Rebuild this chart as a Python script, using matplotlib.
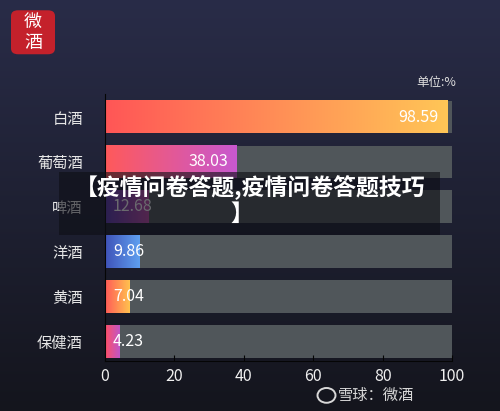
import matplotlib.pyplot as plt
import numpy as np
from matplotlib.colors import LinearSegmentedColormap
from matplotlib.patches import FancyBboxPatch, Rectangle, Circle

plt.rcParams['font.family'] = ['Noto Sans CJK SC', 'DejaVu Sans']

categories = ['白酒', '葡萄酒', '啤酒', '洋酒', '黄酒', '保健酒']
values = [98.59, 38.03, 12.68, 9.86, 7.04, 4.23]
grad_colors = [('#ff5656', '#ffc656'),
               ('#ff5a5a', '#c858d0'),
               ('#5a3ab0', '#c04aa8'),
               ('#3f52b8', '#5fa0f0'),
               ('#ff5a58', '#ffc24e'),
               ('#ff5066', '#c056c8')]
xticks = [0, 20, 40, 60, 80, 100]

fig = plt.figure(figsize=(5, 4.11), dpi=100)

# background gradient
bg = fig.add_axes([0, 0, 1, 1])
bg_cmap = LinearSegmentedColormap.from_list('bg', ['#292c48', '#14151d'])
bg.imshow(np.linspace(0, 1, 256).reshape(-1, 1), cmap=bg_cmap, aspect='auto',
          extent=[0, 1, 0, 1])
bg.set_xlim(0, 1)
bg.set_ylim(0, 1)
bg.axis('off')

ax = fig.add_axes([0.21, 0.1217, 0.694, 0.649])
ax.patch.set_alpha(0)
n = len(categories)
ypos = np.arange(n)[::-1]
h = 0.73

ax.barh(ypos, [100] * n, height=h, color='#50565a', zorder=1)
for y, v, (c0, c1) in zip(ypos, values, grad_colors):
    cm = LinearSegmentedColormap.from_list('g', [c0, c1])
    ax.imshow(np.linspace(0, 1, 256).reshape(1, -1), cmap=cm, aspect='auto',
              extent=[0, v, y - h / 2, y + h / 2], zorder=2)
    if v > 20:
        ax.text(v - 2.5, y, f'{v:.2f}', ha='right', va='center',
                color='white', fontsize=11.5, zorder=3)
    else:
        ax.text(2.3, y, f'{v:.2f}', ha='left', va='center',
                color='white', fontsize=11.5, zorder=3)

ax.set_xlim(0, 100)
ax.set_ylim(-0.44, n - 0.49)
ax.set_yticks(ypos)
ax.set_yticklabels(categories, color='#e6e6e6', fontsize=11)
ax.set_xticks(xticks)
ax.set_xticklabels([str(t) for t in xticks], color='#f0f0f0', fontsize=11.5)
ax.tick_params(axis='y', length=0, pad=16)
ax.tick_params(axis='x', direction='in', length=4, color='#050505', pad=5)
for s in ['top', 'right']:
    ax.spines[s].set_visible(False)
for s in ['left', 'bottom']:
    ax.spines[s].set_color('#050505')

fig.text(0.873, 0.800, '单位:%', ha='center', va='center', color='#dddddd', fontsize=9)

# logo top-left
fig.patches.append(FancyBboxPatch((0.022, 0.868), 0.088, 0.107, boxstyle='round,pad=0,rounding_size=0.014',
                                  transform=fig.transFigure, facecolor='#c4212b', edgecolor='none'))
fig.text(0.066, 0.947, '微', ha='center', va='center', color='white', fontsize=13)
fig.text(0.066, 0.895, '酒', ha='center', va='center', color='white', fontsize=13)

# watermark bottom-right
fig.patches.append(Circle((0.653, 0.038), 0.018, transform=fig.transFigure,
                          facecolor='none', edgecolor='#d8d8d8', lw=1.4))
fig.text(0.676, 0.038, '雪球：微酒', ha='left', va='center', color='#d8d8d8', fontsize=11)

# overlay banner
fig.patches.append(Rectangle((0.118, 0.428), 0.762, 0.153, transform=fig.transFigure,
                             facecolor='#0e0f16', alpha=0.62, edgecolor='none', zorder=5))
fig.text(0.5, 0.543, '【疫情问卷答题,疫情问卷答题技巧', ha='center', va='center',
         color='white', fontsize=16.5, fontweight='heavy', zorder=6)
fig.text(0.484, 0.478, '】', ha='center', va='center',
         color='white', fontsize=16.5, fontweight='heavy', zorder=6)

fig.savefig('out.png', dpi=100)
